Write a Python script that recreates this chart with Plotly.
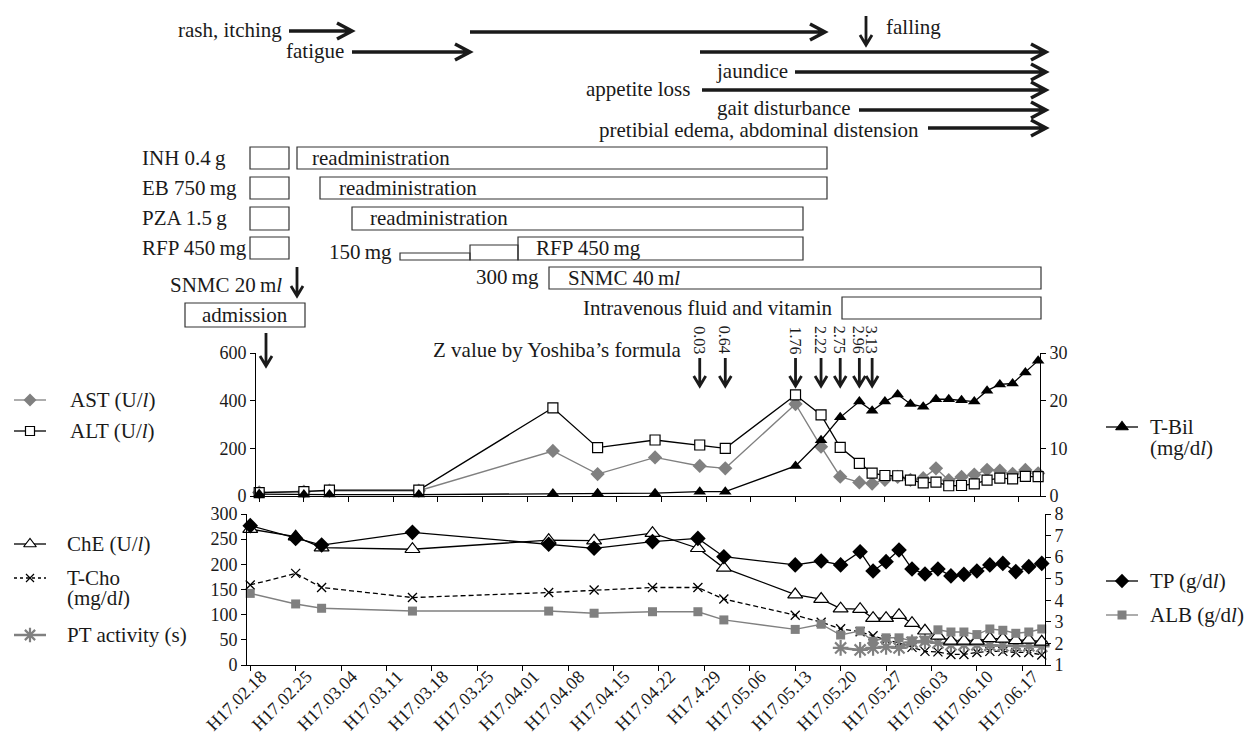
import plotly.graph_objects as go

# ---------------- data ----------------
dates = ["2005-02-18", "2005-02-25", "2005-03-01", "2005-03-15", "2005-04-05", "2005-04-12",
         "2005-04-21", "2005-04-28", "2005-05-02", "2005-05-13", "2005-05-17", "2005-05-20",
         "2005-05-23", "2005-05-25", "2005-05-27", "2005-05-29", "2005-05-31", "2005-06-02",
         "2005-06-04", "2005-06-06", "2005-06-08", "2005-06-10", "2005-06-12", "2005-06-14",
         "2005-06-16", "2005-06-18", "2005-06-20"]
ast = [15, 18, 22, 22, 189, 92, 162, 126, 116, 386, 207, 81, 57, 52, 68, 80, 68, 75,
       116, 66, 80, 90, 110, 106, 93, 109, 95]
alt = [14, 18, 25, 25, 370, 203, 235, 214, 200, 424, 340, 204, 137, 96, 86, 85, 67, 55,
       58, 43, 44, 51, 67, 75, 72, 82, 81]
tbil = [0.4, 0.3, 0.3, 0.3, 0.5, 0.6, 0.6, 0.9, 0.9, 6.3, 11.7, 16.5, 19.8, 17.9, 19.8,
        21.3, 19.3, 18.7, 20.3, 20.3, 20.1, 19.8, 22.1, 23.4, 23.6, 25.9, 28.4]
che = [270, 255, 233, 230, 248, 247, 262, 232, 193, 140, 131, 112, 111, 93, 93, 99, 83,
       68, 58, 48, 48, 48, 53, 52, 49, 50, 46]
tcho = [159, 182, 154, 134, 144, 149, 154, 154, 131, 99, 85, 72, 66, 58, 50, 44, 35, 27,
        26, 21, 21, 25, 27, 27, 25, 25, 20]
tp = [7.46, 6.87, 6.56, 7.15, 6.6, 6.41, 6.72, 6.87, 6.02, 5.64, 5.82, 5.64, 6.25, 5.36,
      5.79, 6.33, 5.45, 5.22, 5.45, 5.13, 5.2, 5.36, 5.64, 5.71, 5.33, 5.56, 5.71]
alb = [4.32, 3.83, 3.63, 3.5, 3.5, 3.4, 3.47, 3.47, 3.09, 2.65, 2.89, 2.39, 2.58, 2.1,
       2.26, 2.26, 2.12, 2.15, 2.63, 2.53, 2.53, 2.41, 2.67, 2.61, 2.47, 2.53, 2.67]
pt_dates = ["2005-05-20", "2005-05-23", "2005-05-25", "2005-05-27", "2005-05-29", "2005-05-31",
            "2005-06-02", "2005-06-04", "2005-06-06", "2005-06-08", "2005-06-10", "2005-06-12",
            "2005-06-14", "2005-06-16", "2005-06-18", "2005-06-20"]
pt = [34, 30, 34, 36, 34, 45, 47, 44, 40, 40, 40, 39, 38, 38, 38, 37]

tick_dates = ["2005-02-18", "2005-02-25", "2005-03-04", "2005-03-11", "2005-03-18", "2005-03-25",
              "2005-04-01", "2005-04-08", "2005-04-15", "2005-04-22", "2005-04-29", "2005-05-06",
              "2005-05-13", "2005-05-20", "2005-05-27", "2005-06-03", "2005-06-10", "2005-06-17"]
tick_labels = ["H17.02.18", "H17.02.25", "H17.03.04", "H17.03.11", "H17.03.18", "H17.03.25",
               "H17.04.01", "H17.04.08", "H17.04.15", "H17.04.22", "H17.4.29", "H17.05.06",
               "H17.05.13", "H17.05.20", "H17.05.27", "H17.06.03", "H17.06.10", "H17.06.17"]

z_labels = ["0.03", "0.64", "1.76", "2.22", "2.75", "2.96", "3.13"]
z_dates = ["2005-04-28", "2005-05-02", "2005-05-13", "2005-05-17", "2005-05-20", "2005-05-23",
           "2005-05-25"]

# ---------------- layout helpers ----------------
W, H = 1247, 738
FONT = "Liberation Serif, Times New Roman, serif"
TXT = "#1a1a1a"
GRAY = "#808080"


def fx(px):
    return px / W


def fy(py):
    return 1 - py / H


fig = go.Figure()

# upper chart
fig.add_trace(go.Scatter(x=dates, y=ast, mode="lines+markers", xaxis="x", yaxis="y",
                         line=dict(color=GRAY, width=1.4),
                         marker=dict(symbol="diamond", size=11, color=GRAY), cliponaxis=False))
fig.add_trace(go.Scatter(x=dates, y=alt, mode="lines+markers", xaxis="x", yaxis="y",
                         line=dict(color="black", width=1.3),
                         marker=dict(symbol="square", size=10, color="white",
                                     line=dict(color="black", width=1.2)), cliponaxis=False))
fig.add_trace(go.Scatter(x=dates, y=tbil, mode="lines+markers", xaxis="x", yaxis="y2",
                         line=dict(color="black", width=1.3),
                         marker=dict(symbol="triangle-up", size=11, color="black"), cliponaxis=False))

# lower chart
fig.add_trace(go.Scatter(x=dates, y=tcho, mode="lines+markers", xaxis="x2", yaxis="y3",
                         line=dict(color="black", width=1.3, dash="5px,3px"),
                         marker=dict(symbol="x-thin", size=9, line=dict(color="black", width=1.3)),
                         cliponaxis=False))
fig.add_trace(go.Scatter(x=pt_dates, y=pt, mode="lines+markers", xaxis="x2", yaxis="y3",
                         line=dict(color=GRAY, width=2.5),
                         marker=dict(symbol="asterisk", size=13, line=dict(color=GRAY, width=2.2)),
                         cliponaxis=False))
fig.add_trace(go.Scatter(x=dates, y=che, mode="lines+markers", xaxis="x2", yaxis="y3",
                         line=dict(color="black", width=1.3),
                         marker=dict(symbol="triangle-up", size=13, color="white",
                                     line=dict(color="black", width=1.2)), cliponaxis=False))
fig.add_trace(go.Scatter(x=dates, y=alb, mode="lines+markers", xaxis="x2", yaxis="y4",
                         line=dict(color=GRAY, width=1.4),
                         marker=dict(symbol="square", size=9, color=GRAY), cliponaxis=False))
fig.add_trace(go.Scatter(x=dates, y=tp, mode="lines+markers", xaxis="x2", yaxis="y4",
                         line=dict(color="black", width=1.3),
                         marker=dict(symbol="diamond", size=12, color="black"), cliponaxis=False))

# legend glyphs in pixel overlay
def glyph(xc, yc, color, symbol, size, fill=None, dash=None, lw=1.3, mlw=1.2):
    fig.add_trace(go.Scatter(x=[xc - 16, xc + 16], y=[yc, yc], mode="lines", xaxis="x3", yaxis="y5",
                             line=dict(color=color, width=lw, dash=dash), cliponaxis=False))
    fig.add_trace(go.Scatter(x=[xc], y=[yc], mode="markers", xaxis="x3", yaxis="y5",
                             marker=dict(symbol=symbol, size=size, color=fill or color,
                                         line=dict(color=color, width=mlw)), cliponaxis=False))


glyph(30, 400, GRAY, "diamond", 10, mlw=0)
glyph(30, 431, "black", "square", 9, fill="white")
glyph(30, 544, "black", "triangle-up", 11, fill="white")
glyph(30, 578, "black", "x-thin", 8, dash="3px,3px")
glyph(30, 635, GRAY, "asterisk", 12, lw=2.5, mlw=2.2)
glyph(1122, 427, "black", "triangle-up", 11)
glyph(1122, 581, "black", "diamond", 11, mlw=0)
glyph(1122, 615, GRAY, "square", 9, mlw=0)

axis_common = dict(showgrid=False, zeroline=False, showline=True, linecolor="black", linewidth=1,
                   ticks="outside", ticklen=5, tickcolor="black", automargin=False,
                   tickfont=dict(family=FONT, size=18, color=TXT))

fig.update_layout(
    template="none",
    width=W, height=H, margin=dict(l=0, r=0, t=0, b=0, pad=0), autosize=False,
    paper_bgcolor="white", plot_bgcolor="rgba(0,0,0,0)", showlegend=False,
    font=dict(family=FONT, size=21, color=TXT),
    xaxis=dict(domain=[fx(256), fx(1040)], anchor="y", type="date",
               range=["2005-02-17 12:00", "2005-06-20 07:00"], tickvals=tick_dates,
               showticklabels=False, **axis_common),
    yaxis=dict(domain=[fy(496), fy(353)], anchor="x", range=[0, 600], tickvals=[0, 200, 400, 600],
               **axis_common),
    yaxis2=dict(overlaying="y", side="right", anchor="x", range=[0, 30], tickvals=[0, 10, 20, 30],
                **axis_common),
    xaxis2=dict(domain=[fx(247), fx(1045)], anchor="y3", type="date",
                range=["2005-02-17 12:00", "2005-06-20 12:00"], tickvals=tick_dates,
                ticktext=tick_labels, tickangle=-45, ticklabelstandoff=-12, ticklabelshift=11,
                **axis_common),
    yaxis3=dict(domain=[fy(665), fy(514)], anchor="x2", range=[0, 300], dtick=50, **axis_common),
    yaxis4=dict(overlaying="y3", side="right", anchor="x2", range=[1, 8], dtick=1, **axis_common),
    xaxis3=dict(domain=[0, 1], anchor="y5", range=[0, W], visible=False, fixedrange=True,
                automargin=False),
    yaxis5=dict(domain=[0, 1], anchor="x3", range=[H, 0], visible=False, fixedrange=True,
                automargin=False),
)

shapes = []
annotations = []


def text(x, y, s, anchor="left", size=21):
    annotations.append(dict(x=x, y=y, xref="x3", yref="y5", text=s, showarrow=False,
                            xanchor=anchor, yanchor="middle",
                            font=dict(family=FONT, size=size, color=TXT)))


def harrow(x0, x1, y, w=3.5, hl=15, hw=8):
    shapes.append(dict(type="path", xref="x3", yref="y5",
                       path=f"M{x0},{y} L{x1},{y} M{x1 - hl},{y - hw} L{x1},{y} L{x1 - hl},{y + hw}",
                       line=dict(color=TXT, width=w)))


def darrow(x, y0, y1, w=2.8, hl=10, hw=6):
    shapes.append(dict(type="path", xref="x3", yref="y5",
                       path=f"M{x},{y0} L{x},{y1} M{x - hw},{y1 - hl} L{x},{y1} L{x + hw},{y1 - hl}",
                       line=dict(color=TXT, width=w)))


def box(x0, x1, y0, y1):
    shapes.append(dict(type="rect", xref="x3", yref="y5", x0=x0, x1=x1, y0=y0, y1=y1,
                       line=dict(color="#333333", width=1.2), fillcolor="rgba(0,0,0,0)"))


# symptoms
text(284, 30, "rash, itching", "right")
harrow(289, 352, 31)
text(346, 51, "fatigue", "right")
harrow(352, 470, 52)
harrow(470, 825, 32)
darrow(866, 16, 45)
text(884, 27, "falling")
harrow(700, 1046, 52)
text(714, 71, "jaundice")
harrow(795, 1046, 72)
text(692, 89, "appetite loss", "right")
harrow(702, 1046, 90)
text(715, 108, "gait disturbance")
harrow(859, 1046, 110)
text(921, 130, "pretibial edema, abdominal distension", "right")
harrow(928, 1046, 128)

# drugs
text(140, 158, "INH 0.4\u2009g")
box(250, 289, 147, 169)
box(297, 827, 147, 169)
text(310, 158, "readministration")
text(140, 188, "EB 750\u2009mg")
box(250, 289, 177, 199)
box(320, 827, 177, 199)
text(337, 188, "readministration")
text(140, 218, "PZA 1.5\u2009g")
box(250, 289, 207, 230)
box(352, 803, 207, 230)
text(368, 218, "readministration")
text(140, 248, "RFP 450\u2009mg")
box(250, 289, 237, 259)
text(327, 252, "150\u2009mg")
box(400, 470, 253, 260)
box(470, 518, 245, 260)
box(518, 803, 237, 260)
text(534, 248, "RFP 450\u2009mg")
text(474, 277, "300\u2009mg")
box(549, 1041, 267, 289)
text(566, 278, "SNMC 40\u2009m<i>l</i>")
text(168, 285, "SNMC 20\u2009m<i>l</i>")
darrow(297, 267, 296)
text(581, 308, "Intravenous fluid and vitamin")
box(842, 1041, 297, 319)
box(185, 305, 303, 327)
text(245, 315, "admission", "center")
darrow(266, 333, 366)
text(431, 350, "Z value by Yoshiba\u2019s formula")

# Z values placed on the date axis
for zl, zd in zip(z_labels, z_dates):
    annotations.append(dict(x=zd, y=340, xref="x", yref="y5", text=zl, showarrow=False,
                            textangle=90, xanchor="center", yanchor="middle",
                            font=dict(family=FONT, size=16, color=TXT)))
    shapes.append(dict(type="path", xref="x", yref="y5", xsizemode="pixel", xanchor=zd,
                       path="M0,358 L0,386 M-6,376 L0,386 L6,376",
                       line=dict(color=TXT, width=2.8)))

# legend texts
text(68, 400, "AST (U/<i>l</i>)")
text(68, 431, "ALT (U/<i>l</i>)")
text(65, 544, "ChE (U/<i>l</i>)")
text(65, 578, "T-Cho")
text(65, 598, "(mg/d<i>l</i>)")
text(65, 635, "PT activity (s)")
text(1148, 427, "T-Bil")
text(1148, 448, "(mg/d<i>l</i>)")
text(1148, 581, "TP (g/d<i>l</i>)")
text(1148, 615, "ALB (g/d<i>l</i>)")

fig.update_layout(shapes=shapes, annotations=annotations)

fig.write_html("out.html", config={"displayModeBar": False},
               post_script="document.body.style.margin='0';")
